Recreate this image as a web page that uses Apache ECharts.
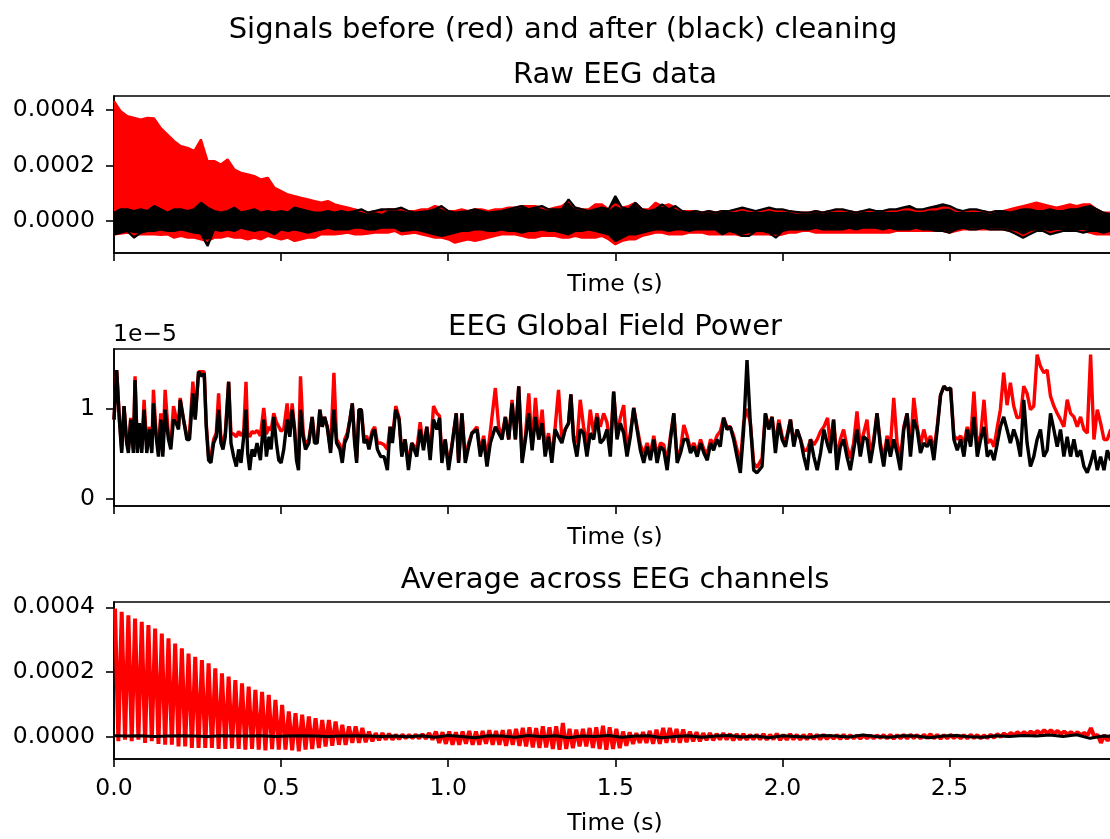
<!DOCTYPE html>
<html>
<head>
<meta charset="utf-8">
<script src="https://cdn.jsdelivr.net/npm/echarts@6.0.0/dist/echarts.min.js"></script>
<style>
html,body{margin:0;padding:0;background:#fff;overflow:hidden;width:1110px;height:839px}
#c{width:1120px;height:839px}
</style>
</head>
<body>
<div id="c"></div>
<script>
// ---------------- DATA ----------------
// Shared x ticks (seconds)
const xTicks = [0, 0.5, 1.0, 1.5, 2.0, 2.5];
const yTicksVolt = [0, 0.0002, 0.0004];
const yTicksGfp = [0, 1];

// Panel 1 "Raw EEG data": envelope of all channels, sampled every 0.02 s, in units of 1e-4
const RAW_STEP = 0.02;
const rawRedTop = [
 4.32,3.96,3.78,3.72,3.66,3.72,3.70,3.35,3.12,2.88,
 2.70,2.64,2.52,2.94,2.16,2.16,2.04,2.22,1.86,1.74,
 1.68,1.62,1.50,1.56,1.20,1.08,0.96,0.90,0.84,0.78,
 0.72,0.66,0.72,0.60,0.54,0.48,0.42,0.36,0.30,0.36,
 0.30,0.42,0.42,0.42,0.36,0.36,0.42,0.42,0.54,0.48,
 0.36,0.36,0.42,0.36,0.42,0.42,0.36,0.42,0.42,0.48,
 0.48,0.54,0.54,0.54,0.48,0.42,0.48,0.54,0.72,0.48,
 0.42,0.42,0.60,0.60,0.42,0.60,0.48,0.54,0.66,0.42,
 0.42,0.66,0.54,0.60,0.48,0.36,0.36,0.36,0.30,0.36,
 0.30,0.36,0.36,0.36,0.42,0.36,0.36,0.36,0.42,0.36,
 0.36,0.36,0.30,0.30,0.30,0.36,0.30,0.36,0.36,0.36,
 0.36,0.30,0.36,0.36,0.36,0.36,0.36,0.36,0.42,0.42,
 0.36,0.36,0.42,0.42,0.48,0.48,0.36,0.36,0.36,0.36,
 0.36,0.30,0.36,0.36,0.42,0.48,0.54,0.60,0.66,0.60,
 0.54,0.48,0.54,0.60,0.54,0.60,0.60,0.42,0.30,0.30,0.30
];
const rawRedBot = [
 -0.48,-0.46,-0.42,-0.48,-0.48,-0.48,-0.48,-0.50,-0.48,-0.60,
 -0.54,-0.60,-0.60,-0.66,-0.72,-0.60,-0.60,-0.54,-0.60,-0.60,
 -0.66,-0.60,-0.66,-0.54,-0.60,-0.66,-0.60,-0.72,-0.66,-0.60,
 -0.60,-0.48,-0.48,-0.48,-0.46,-0.42,-0.48,-0.48,-0.46,-0.42,
 -0.42,-0.42,-0.36,-0.48,-0.46,-0.42,-0.48,-0.54,-0.60,-0.60,
 -0.66,-0.78,-0.72,-0.66,-0.72,-0.66,-0.60,-0.54,-0.48,-0.48,
 -0.48,-0.54,-0.60,-0.60,-0.54,-0.54,-0.54,-0.60,-0.60,-0.54,
 -0.60,-0.60,-0.60,-0.54,-0.66,-0.84,-0.72,-0.66,-0.66,-0.54,
 -0.48,-0.42,-0.42,-0.48,-0.48,-0.48,-0.42,-0.42,-0.42,-0.48,
 -0.48,-0.48,-0.48,-0.48,-0.54,-0.48,-0.48,-0.48,-0.48,-0.54,
 -0.48,-0.42,-0.42,-0.36,-0.36,-0.42,-0.42,-0.42,-0.42,-0.42,
 -0.42,-0.42,-0.42,-0.42,-0.42,-0.42,-0.42,-0.36,-0.36,-0.36,
 -0.36,-0.36,-0.36,-0.36,-0.36,-0.42,-0.36,-0.30,-0.30,-0.30,
 -0.30,-0.30,-0.30,-0.30,-0.36,-0.42,-0.54,-0.42,-0.36,-0.36,
 -0.42,-0.36,-0.36,-0.36,-0.36,-0.36,-0.42,-0.48,-0.48,-0.48,-0.42
];
const rawBlackTop = [
 0.30,0.42,0.42,0.36,0.42,0.36,0.54,0.42,0.30,0.42,
 0.42,0.36,0.42,0.66,0.48,0.36,0.30,0.36,0.48,0.30,
 0.36,0.42,0.30,0.36,0.30,0.36,0.30,0.48,0.42,0.36,
 0.30,0.30,0.36,0.30,0.36,0.30,0.36,0.42,0.30,0.36,
 0.42,0.42,0.42,0.48,0.36,0.30,0.33,0.36,0.42,0.54,
 0.36,0.30,0.33,0.36,0.42,0.36,0.30,0.33,0.36,0.42,
 0.48,0.54,0.42,0.48,0.54,0.42,0.42,0.42,0.78,0.48,
 0.42,0.36,0.42,0.48,0.42,0.90,0.48,0.42,0.66,0.42,
 0.36,0.42,0.60,0.42,0.54,0.36,0.30,0.36,0.30,0.36,
 0.30,0.36,0.36,0.42,0.48,0.42,0.36,0.42,0.48,0.42,
 0.42,0.36,0.33,0.30,0.30,0.36,0.30,0.36,0.42,0.42,
 0.36,0.30,0.36,0.42,0.36,0.36,0.42,0.42,0.48,0.54,
 0.42,0.42,0.48,0.54,0.60,0.54,0.42,0.36,0.42,0.42,
 0.36,0.30,0.36,0.36,0.30,0.36,0.42,0.42,0.36,0.36,
 0.42,0.36,0.36,0.42,0.42,0.48,0.54,0.42,0.30,0.24,0.30
];
const rawBlackBot = [
 -0.48,-0.42,-0.36,-0.60,-0.42,-0.36,-0.36,-0.30,-0.36,-0.36,
 -0.30,-0.36,-0.42,-0.45,-0.90,-0.30,-0.36,-0.30,-0.36,-0.24,
 -0.30,-0.36,-0.30,-0.36,-0.48,-0.30,-0.36,-0.30,-0.36,-0.42,
 -0.36,-0.30,-0.24,-0.30,-0.30,-0.30,-0.24,-0.24,-0.30,-0.30,
 -0.24,-0.24,-0.24,-0.36,-0.34,-0.30,-0.36,-0.42,-0.48,-0.54,
 -0.48,-0.42,-0.36,-0.36,-0.30,-0.30,-0.36,-0.36,-0.30,-0.36,
 -0.36,-0.42,-0.36,-0.36,-0.30,-0.36,-0.36,-0.42,-0.48,-0.36,
 -0.36,-0.30,-0.36,-0.42,-0.48,-0.72,-0.60,-0.48,-0.48,-0.42,
 -0.36,-0.30,-0.30,-0.36,-0.30,-0.30,-0.36,-0.30,-0.30,-0.30,
 -0.30,-0.48,-0.36,-0.42,-0.54,-0.54,-0.36,-0.36,-0.42,-0.60,
 -0.36,-0.30,-0.30,-0.30,-0.30,-0.24,-0.30,-0.30,-0.30,-0.30,
 -0.24,-0.30,-0.24,-0.24,-0.24,-0.30,-0.24,-0.30,-0.30,-0.30,
 -0.24,-0.30,-0.30,-0.36,-0.36,-0.42,-0.30,-0.24,-0.30,-0.30,
 -0.24,-0.30,-0.30,-0.30,-0.36,-0.48,-0.60,-0.48,-0.36,-0.36,
 -0.48,-0.42,-0.36,-0.36,-0.36,-0.42,-0.36,-0.36,-0.42,-0.36,-0.36
];

// Panel 2 "EEG Global Field Power": turning points, time in centiseconds, values in units of 1e-5
const gfpTimeCs = [
 0,0.8,1.6,2.3,3.0,3.8,4.3,5.0,5.8,6.3,
 7.0,7.6,8.3,9.0,9.8,10.6,11.3,11.8,12.6,13.3,
 14.0,14.6,15.3,16.3,17.0,17.8,18.6,19.3,19.8,20.8,
 21.8,22.6,23.6,24.3,25.3,26.3,27.0,27.6,28.3,29.0,
 29.8,30.6,31.3,32.0,32.6,33.3,34.3,35.0,35.8,36.6,
 37.3,38.0,38.8,39.5,40.0,40.6,41.3,42.0,42.8,43.8,
 44.8,45.6,46.4,47.0,47.8,48.6,49.3,50.0,50.8,51.8,
 52.6,53.3,54.0,54.6,55.2,55.8,56.6,57.3,58.3,59.3,
 60.0,60.8,61.6,62.3,63.0,63.8,64.8,65.8,66.6,67.6,
 68.3,69.0,69.8,70.6,71.3,72.0,72.6,73.3,74.0,74.8,
 75.6,76.3,77.3,78.0,78.8,79.8,80.8,81.8,82.6,83.3,
 84.3,85.3,
 86.1,87.1,88.1,89.1,90.6,91.6,92.6,93.6,94.6,95.6,
 96.6,97.4,98.1,99.1,100.1,101.1,102.4,103.1,104.1,105.1,
 106.1,107.1,108.6,109.6,110.6,111.6,112.6,114.1,115.1,116.1,
 117.1,118.1,119.1,120.1,121.1,122.1,123.1,124.1,125.1,126.1,
 127.1,128.1,129.0,130.0,131.0,132.0,133.0,134.0,135.0,136.0,
 136.7,137.5,138.5,139.5,140.5,141.5,142.5,143.5,144.5,145.5,
 146.5,147.5,148.5,149.5,150.5,151.5,152.5,153.5,154.5,155.5,
 156.5,157.5,158.5,159.5,160.5,161.5,162.5,163.5,164.5,165.5,
 166.5,167.5,168.5,169.5,170.5,171.5,172.5,173.5,174.5,175.5,
 176.5,177.5,178.5,179.4,180.4,181.4,182.4,183.4,184.4,185.4,
 186.4,187.4,188.4,189.4,190.4,191.4,192.4,
 193.9,194.9,195.9,196.9,197.9,198.9,199.9,200.9,202.4,203.4,
 204.4,205.4,206.4,207.4,208.4,209.4,210.4,211.4,212.4,213.5,
 214.3,215.3,216.3,217.3,218.3,219.3,220.3,221.3,222.3,223.3,
 224.3,225.3,226.3,227.3,228.3,229.3,230.3,231.3,232.3,233.3,
 234.3,235.3,236.3,237.3,238.3,239.3,240.3,241.3,242.3,243.3,
 244.3,245.3,246.3,247.3,248.3,249.3,250.3,251.3,252.3,253.3,
 254.3,255.3,256.3,257.3,258.3,259.3,260.3,261.3,262.3,263.3,
 264.3,265.2,266.2,267.2,268.2,269.2,270.2,271.2,272.2,273.2,
 274.2,275.2,276.2,277.2,278.2,279.2,280.2,281.2,282.2,283.2,
 284.2,285.2,286.2,287.2,288.2,289.2,290.2,291.2,292.2,293.2,
 294.2,295.2,296.2,297.2,298.2,299.5,300.0
];
const gfpBlack = [
 .88,1.43,.88,.51,1.03,.62,.51,.88,.51,1.32,
 .51,.84,.51,.99,.51,.77,.51,1.06,.69,.47,
 .88,.47,.99,.66,.55,.88,.84,.77,1.10,.88,
 .66,.66,1.17,.88,1.41,1.36,1.39,.80,.43,.40,
 .62,.69,.99,.62,.55,.69,1.30,.62,.47,.36,
 .55,.40,.69,.99,.51,.32,.55,.47,.62,.43,
 .88,.47,.69,.55,.91,.62,.43,.40,.55,.88,
 .69,.99,.77,.43,.32,.99,.69,.55,.62,.91,
 .62,.62,.99,.80,.91,.80,.51,.99,.62,.55,
 .40,.62,.69,.88,1.06,.62,.40,.99,.99,.62,
 .66,.55,.73,.77,.55,.47,.47,.32,.80,.62,
 .99,.88,
 .47,.66,.32,.62,.47,.77,.54,.80,.43,.88,
 .77,.90,.40,.66,.32,.58,.95,.40,.95,.40,
 .58,.73,.77,.47,.66,.36,.62,.80,.73,.66,
 .91,.66,1.06,.66,1.25,.40,.66,.95,.54,.91,
 .66,.84,.47,.69,.40,.77,.69,.62,.77,.84,
 1.16,.66,.47,.77,.73,.47,.73,.66,.91,.62,
 .66,.77,.47,1.19,.66,.84,.73,.47,.69,1.01,
 .77,.54,.40,.58,.43,.66,.40,.58,.54,.32,
 .66,.95,.40,.51,.66,.66,.51,.58,.47,.62,
 .51,.43,.62,.54,.66,.58,.90,.77,.80,.66,
 .47,.29,.77,1.54,.84,.32,.29,
 .36,.95,.77,.91,.51,.84,.66,.58,.88,.58,
 .77,.66,.47,.32,.66,.47,.32,.51,.77,.60,
 .51,.88,.32,.58,.66,.47,.32,.54,.77,.47,
 .69,.66,.40,.62,.95,.58,.36,.66,.47,.66,
 .51,.32,.77,.95,.47,.88,.77,.51,.62,.58,
 .66,.43,.77,1.15,1.25,1.21,1.23,.66,.54,.66,
 .47,.77,.58,.91,.47,.66,.80,.47,.54,.43,
 .62,.80,.91,.77,.62,.77,.66,.47,1.10,.62,
 .36,.47,.66,.77,.47,.54,.95,.77,.58,.77,
 .47,.69,.47,.66,.47,.54,.36,.29,.40,.54,
 .32,.47,.32,.54,.43,.50,.45
];
const gfpRed = [
 .88,1.43,.90,.55,1.03,.62,.55,.90,.55,1.36,
 .55,.84,.55,1.10,.58,.80,.55,1.21,.73,.55,
 .95,.52,1.21,.70,.60,1.03,.90,.80,1.12,.88,
 .70,.73,1.30,.90,1.41,1.41,1.41,.84,.47,.47,
 .66,.73,1.17,.66,.62,.73,1.30,.73,.72,.69,
 .75,.70,.75,1.30,.72,.69,.75,.73,.76,.70,
 1.01,.72,.80,.76,.95,.85,.80,.75,.78,1.06,
 .72,1.06,.80,.50,.45,1.36,.73,.60,.66,.91,
 .66,.66,.99,.80,.91,.80,.55,1.40,.66,.60,
 .45,.66,.73,.88,1.06,.66,.45,.99,.99,.66,
 .70,.60,.76,.80,.62,.62,.60,.55,.80,.66,
 1.03,.90,
 .50,.66,.40,.62,.55,.85,.58,.80,.50,1.03,
 .95,.92,.45,.66,.38,.60,.95,.42,.95,.45,
 .62,.73,.80,.52,.70,.45,.75,1.23,.80,.70,
 .91,.66,1.10,.66,1.25,.45,.70,1.17,.58,1.12,
 .66,.99,.55,.73,.47,.80,1.21,.66,.77,.84,
 1.16,.70,.62,1.10,.80,.60,.99,.73,.95,.80,
 .95,.85,.58,1.19,.70,.90,1.04,.55,.73,1.01,
 .80,.60,.50,.62,.50,.70,.48,.62,.60,.40,
 .70,.95,.45,.55,.82,.70,.55,.62,.52,.66,
 .55,.50,.66,.60,.70,.75,.90,.80,.80,.70,
 .55,.40,.85,1.00,.84,.40,.35,
 .45,.95,.80,.91,.60,.88,.70,.62,.88,.62,
 .77,.66,.54,.54,.66,.60,.66,.75,.80,.90,
 .60,.88,.45,.66,.77,.58,.45,.62,.97,.58,
 .73,.88,.50,.66,.95,.62,.45,.70,.58,1.12,
 .62,.45,.80,.95,.55,1.12,.80,.60,.77,.62,
 .70,.54,.80,1.15,1.25,1.21,1.23,.70,.66,.70,
 .62,.80,.66,1.19,.58,.70,1.10,.62,.66,.58,
 .80,.99,1.40,1.04,1.29,1.03,.90,.91,1.25,1.17,
 .99,1.03,1.60,1.47,1.40,1.43,1.14,1.03,.95,.88,
 .80,1.10,.95,.91,.80,.91,.77,.73,1.60,.66,
 .99,.84,.66,.66,.77,.70,.65
];

// Panel 3 "Average across EEG channels": 50 Hz cycles (one peak and one trough per 0.02 s), units of 1e-4
const CYCLE = 0.02;
const PEAK_PHASE = 0.003;
const avgRedPeak = [
 3.96,3.86,3.75,3.65,3.55,3.45,3.34,3.19,3.04,2.88,
 2.73,2.57,2.47,2.37,2.27,2.11,1.96,1.86,1.75,1.65,
 1.55,1.45,1.39,1.29,1.14,0.98,0.78,0.73,0.68,0.63,
 0.57,0.52,0.52,0.47,0.37,0.32,0.32,0.27,0.16,0.11,
 0.11,0.09,0.06,0.06,0.05,0.06,0.08,0.11,0.16,0.14,
 0.16,0.14,0.16,0.18,0.16,0.18,0.20,0.18,0.20,0.22,
 0.24,0.27,0.29,0.27,0.32,0.29,0.32,0.42,0.24,0.22,
 0.24,0.27,0.29,0.34,0.29,0.24,0.16,0.14,0.11,0.14,
 0.18,0.22,0.27,0.27,0.24,0.22,0.16,0.14,0.11,0.11,
 0.09,0.11,0.09,0.08,0.08,0.06,0.06,0.08,0.06,0.09,
 0.06,0.08,0.06,0.06,0.08,0.06,0.06,0.04,0.05,0.06,
 0.05,0.04,0.05,0.04,0.04,0.05,0.06,0.05,0.06,0.06,
 0.05,0.06,0.08,0.06,0.05,0.06,0.04,0.05,0.06,0.05,
 0.04,0.06,0.08,0.10,0.12,0.14,0.14,0.16,0.18,0.20,
 0.20,0.18,0.16,0.14,0.14,0.12,0.27,0.06,0.05,0.04
];
const avgRedTrough = [
 -0.14,-0.09,-0.14,-0.09,-0.19,-0.14,-0.22,-0.25,-0.25,-0.30,
 -0.30,-0.35,-0.35,-0.35,-0.35,-0.38,-0.38,-0.35,-0.38,-0.40,
 -0.38,-0.40,-0.42,-0.38,-0.40,-0.40,-0.42,-0.45,-0.40,-0.38,
 -0.35,-0.30,-0.28,-0.25,-0.25,-0.19,-0.19,-0.17,-0.14,-0.11,
 -0.09,-0.09,-0.07,-0.04,-0.04,-0.05,-0.06,-0.09,-0.19,-0.22,
 -0.25,-0.25,-0.22,-0.25,-0.25,-0.22,-0.25,-0.25,-0.28,-0.25,
 -0.28,-0.30,-0.33,-0.35,-0.33,-0.38,-0.40,-0.38,-0.35,-0.30,
 -0.30,-0.35,-0.38,-0.40,-0.38,-0.35,-0.28,-0.22,-0.19,-0.19,
 -0.22,-0.22,-0.19,-0.17,-0.19,-0.17,-0.14,-0.14,-0.11,-0.11,
 -0.09,-0.09,-0.11,-0.09,-0.09,-0.08,-0.08,-0.09,-0.08,-0.10,
 -0.09,-0.08,-0.09,-0.08,-0.07,-0.08,-0.07,-0.06,-0.07,-0.06,
 -0.05,-0.06,-0.05,-0.05,-0.04,-0.05,-0.06,-0.05,-0.05,-0.04,
 -0.05,-0.04,-0.05,-0.06,-0.05,-0.04,-0.05,-0.05,-0.04,-0.05,
 -0.04,-0.03,0.00,0.02,0.04,0.06,0.06,0.08,0.09,0.10,
 0.10,0.08,0.07,0.06,0.05,0.04,0.00,-0.19,-0.12,-0.08
];
const AVG_BLACK_STEP = 0.04;
const avgBlack = [
 0.03,0.02,0.03,0.01,0.02,0.03,0.02,0.01,0.03,0.02,
 0.02,0.03,0.01,0.02,0.03,0.02,0.01,0.02,0.03,0.02,
 0.01,0.02,0.00,0.03,-0.02,0.04,0.01,-0.03,0.03,0.02,
 -0.02,0.04,0.00,0.03,-0.03,0.02,0.01,0.04,-0.02,0.02,
 0.03,-0.03,0.01,0.03,-0.02,0.02,0.04,-0.01,0.02,-0.03,
 0.03,0.01,-0.02,0.04,0.02,-0.01,0.05,0.01,-0.02,0.03,
 0.02,-0.03,0.02,0.04,0.00,-0.02,0.03,0.01,0.04,0.02,
 0.05,0.01,0.06,-0.05,0.02,0.01
];

// ---------------- BUILD ----------------
const FONT = '"DejaVu Sans", sans-serif';
const RED = '#ff0000', BLACK = '#000000';
const E4 = 1e-4;

const stepPairs = (arr, step, scale) => arr.map((v, i) => [i * step, v * scale]);
const gfpPairs = arr => arr.map((v, i) => [gfpTimeCs[i] / 100, v]);
const avgRedData = [];
avgRedPeak.forEach((p, k) => {
  avgRedData.push([k * CYCLE + PEAK_PHASE, p * E4]);
  avgRedData.push([k * CYCLE + PEAK_PHASE + CYCLE / 2, avgRedTrough[k] * E4]);
});

// container is 1120 px wide (window 1110) so the right spine falls just outside the view
const GRID_L = 114, GRID_R = 4, GRID_H = 157;
const tops = [96, 349, 602];
const TICK_FS = 23.5, TITLE_FS = 29;

function xAxis(idx, showLabels, nameGap) {
  return {
    type: 'value', gridIndex: idx, min: 0, max: 2.998,
    axisLine: { show: true, onZero: false, lineStyle: { color: '#000', width: 1.6 } },
    axisTick: { show: true, customValues: xTicks, length: 8, lineStyle: { color: '#000', width: 1.6 } },
    axisLabel: { show: showLabels, customValues: xTicks, formatter: v => v.toFixed(1),
      fontSize: TICK_FS, fontFamily: FONT, color: '#000', margin: 18 },
    splitLine: { show: false },
    name: 'Time (s)', nameLocation: 'middle', nameGap: nameGap,
    nameTextStyle: { fontSize: TICK_FS, fontFamily: FONT, color: '#000' }
  };
}
function yAxis(idx, min, max, ticks, fmt) {
  return {
    type: 'value', gridIndex: idx, min: min, max: max,
    axisLine: { show: true, lineStyle: { color: '#000', width: 1.6 } },
    axisTick: { show: true, customValues: ticks, length: 8, lineStyle: { color: '#000', width: 1.6 } },
    axisLabel: { show: true, customValues: ticks, formatter: fmt,
      fontSize: TICK_FS, fontFamily: FONT, color: '#000', margin: 19 },
    splitLine: { show: false }
  };
}
function bandSeries(data, color) {
  return {
    type: 'line', xAxisIndex: 0, yAxisIndex: 0, data: data,
    showSymbol: false, symbol: 'none', silent: true,
    lineStyle: { color: color, width: 2.2 },
    areaStyle: { color: color, opacity: 1 },
    itemStyle: { color: color }
  };
}
function lineSeries(gi, data, color, width) {
  return {
    type: 'line', xAxisIndex: gi, yAxisIndex: gi, data: data,
    showSymbol: false, symbol: 'none', silent: true,
    lineStyle: { color: color, width: width },
    itemStyle: { color: color }
  };
}
function txt(x, y, s, size, align) {
  return { type: 'text', x: x, y: y, silent: true,
    style: { text: s, font: size + 'px ' + FONT, fill: '#000',
      align: align, textAlign: align, verticalAlign: 'middle', textVerticalAlign: 'middle' } };
}

const chart = echarts.init(document.getElementById('c'), null, { renderer: 'canvas' });
chart.setOption({
  animation: false,
  backgroundColor: '#ffffff',
  grid: tops.map(t => ({ left: GRID_L, right: GRID_R, top: t, height: GRID_H,
    show: true, borderColor: '#000', borderWidth: 1.6, backgroundColor: 'transparent', containLabel: false })),
  xAxis: [xAxis(0, false, 20), xAxis(1, false, 20), xAxis(2, true, 53)],
  yAxis: [
    yAxis(0, -0.0001153, 0.0004505, yTicksVolt, v => v.toFixed(4)),
    yAxis(1, -0.078, 1.663, yTicksGfp, v => String(Math.round(v))),
    yAxis(2, -0.0000689, 0.0004164, yTicksVolt, v => v.toFixed(4))
  ],
  series: [
    bandSeries(stepPairs(rawRedTop, RAW_STEP, E4), RED),
    bandSeries(stepPairs(rawRedBot, RAW_STEP, E4), RED),
    bandSeries(stepPairs(rawBlackTop, RAW_STEP, E4), BLACK),
    bandSeries(stepPairs(rawBlackBot, RAW_STEP, E4), BLACK),
    lineSeries(1, gfpPairs(gfpRed), RED, 3.4),
    lineSeries(1, gfpPairs(gfpBlack), BLACK, 3.4),
    lineSeries(2, avgRedData, RED, 4),
    lineSeries(2, stepPairs(avgBlack, AVG_BLACK_STEP, E4), BLACK, 3)
  ],
  graphic: [
    txt(563, 30, 'Signals before (red) and after (black) cleaning', TITLE_FS, 'center'),
    txt(615, 75, 'Raw EEG data', TITLE_FS, 'center'),
    txt(615, 327, 'EEG Global Field Power', TITLE_FS, 'center'),
    txt(615, 580, 'Average across EEG channels', TITLE_FS, 'center'),
    txt(113, 335, '1e\u22125', TICK_FS, 'left')
  ]
});
</script>
</body>
</html>
